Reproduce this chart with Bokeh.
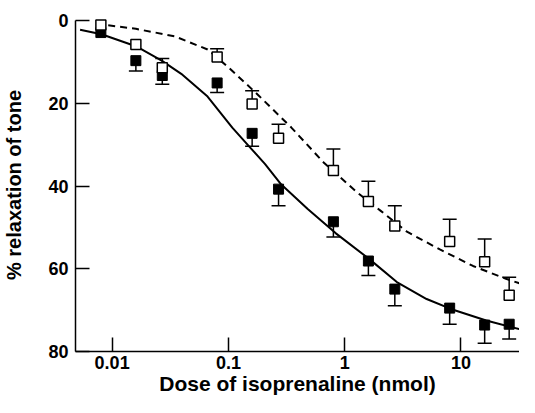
from bokeh.plotting import figure
from bokeh.models import Range1d, FixedTicker, CustomJSTickFormatter
from bokeh.embed import file_html
from bokeh.resources import INLINE

# Doses (nmol)
doses = [0.008, 0.016, 0.027, 0.08, 0.16, 0.27, 0.8, 1.6, 2.7, 8, 16, 26]

# Filled squares (% relaxation) and SEM (drawn downward)
filled_vals = [2.8, 9.6, 13.2, 15.0, 27.2, 40.7, 48.6, 58.1, 64.9, 69.5, 73.6, 73.4]
filled_err = [0, 2.5, 2.1, 2.3, 3.1, 4.0, 3.7, 3.5, 4.0, 3.9, 4.4, 3.6]

# Open squares (% relaxation) and SEM (drawn upward)
open_vals = [1.0, 5.7, 11.3, 8.7, 20.1, 28.4, 36.2, 43.7, 49.6, 53.4, 58.3, 66.4]
open_err = [0, 0, 2.2, 2.0, 3.2, 3.4, 5.2, 4.9, 4.9, 5.4, 5.5, 4.4]

# Fitted curves
solid_x = [0.0053, 0.0081, 0.016, 0.0267, 0.0393, 0.0662, 0.108, 0.148, 0.206,
           0.285, 0.481, 0.84, 1.64, 2.81, 5.07, 8.18, 16.5, 36.1]
solid_y = [2.1, 3.2, 6.1, 9.6, 12.8, 18.3, 25.8, 30.1, 34.6,
           39.6, 45.5, 51.4, 57.7, 63.2, 67.3, 69.7, 72.5, 75.0]

dashed_x = [0.0073, 0.0089, 0.016, 0.0344, 0.0662, 0.1, 0.18, 0.348, 0.667,
            1.28, 2.03, 3.43, 6.59, 12.7, 24.4, 36.1]
dashed_y = [0.8, 1.0, 1.9, 3.7, 6.9, 11.2, 17.9, 25.8, 34.4,
            41.5, 45.9, 51.0, 55.3, 59.3, 62.4, 64.0]

x_ticks = [0.01, 0.1, 1, 10]
y_ticks = [0, 20, 40, 60, 80]

FONT = "Liberation Sans"

p = figure(width=519, height=397, x_axis_type="log",
           x_range=Range1d(0.00484, 31.9), y_range=Range1d(80, -0.6),
           output_backend="svg", toolbar_location=None,
           min_border_left=71, min_border_right=0, min_border_top=18,
           min_border_bottom=0)
p.outline_line_color = None
p.xgrid.visible = False
p.ygrid.visible = False

# curves
p.line(solid_x, solid_y, line_color="black", line_width=2)
p.line(dashed_x, dashed_y, line_color="black", line_width=2, line_dash="7 5")

# error bars
fx = [d for d, e in zip(doses, filled_err) if e > 0]
fy0 = [v for v, e in zip(filled_vals, filled_err) if e > 0]
fy1 = [v + e for v, e in zip(filled_vals, filled_err) if e > 0]
p.segment(fx, fy0, fx, fy1, line_color="black", line_width=1.5)
p.scatter(fx, fy1, marker="dash", size=14, line_color="black", line_width=1.5)

ox = [d for d, e in zip(doses, open_err) if e > 0]
oy0 = [v for v, e in zip(open_vals, open_err) if e > 0]
oy1 = [v - e for v, e in zip(open_vals, open_err) if e > 0]
p.segment(ox, oy0, ox, oy1, line_color="black", line_width=1.5)
p.scatter(ox, oy1, marker="dash", size=14, line_color="black", line_width=1.5)

# markers
p.scatter(doses, filled_vals, marker="square", size=10,
          fill_color="black", line_color="black", line_width=1)
p.scatter(doses, open_vals, marker="square", size=10,
          fill_color="white", line_color="black", line_width=1.5)

# axes
for ax in (p.xaxis[0], p.yaxis[0]):
    ax.axis_line_width = 1.5
    ax.major_tick_line_width = 1.5
    ax.major_tick_in = 14
    ax.major_tick_out = 0
    ax.minor_tick_line_color = None
    ax.major_label_text_font = FONT
    ax.major_label_text_font_style = "bold"
    ax.major_label_text_font_size = "18px"
    ax.major_label_text_color = "black"
    ax.axis_label_text_font = FONT
    ax.axis_label_text_font_style = "bold"
    ax.axis_label_text_color = "black"

p.xaxis.ticker = FixedTicker(ticks=x_ticks)
p.xaxis.formatter = CustomJSTickFormatter(code="return tick.toString();")
p.xaxis.axis_label = "Dose of isoprenaline (nmol)"
p.xaxis.axis_label_text_font_size = "21px"
p.xaxis.major_label_standoff = 4
p.xaxis.axis_label_standoff = 0

p.yaxis.ticker = FixedTicker(ticks=y_ticks)
p.yaxis.bounds = (0, 80)
p.yaxis.axis_label = "% relaxation of tone"
p.yaxis.axis_label_text_font_size = "20px"
p.yaxis.major_label_standoff = 7
p.yaxis.axis_label_standoff = 20

open("out.html", "w").write(file_html(p, INLINE))
